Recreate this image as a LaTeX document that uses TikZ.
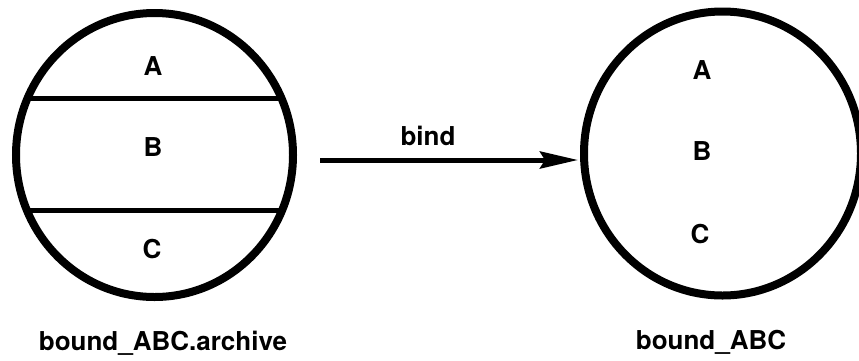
\documentclass[tikz,border=0pt]{standalone}
\usepackage{fontspec}
\setmainfont{TeX Gyre Heros}
\usetikzlibrary{arrows.meta,shapes.geometric}
\begin{document}
\begin{tikzpicture}[x=1pt,y=-1pt,
  lbl/.style={font=\bfseries\fontsize{26}{30}\selectfont, anchor=base, inner sep=0pt},
  ring/.style={draw, ellipse, line width=8pt, minimum width=277pt, minimum height=284pt, inner sep=0pt},
  divider/.style={line width=5pt},
  conn/.style={line width=5pt, -{Stealth[length=38pt,width=17pt,inset=5pt]}}]
\useasboundingbox (0,0) rectangle (859,360);
% left archive
\begin{scope}
  \clip (154.5,155) ellipse [x radius=138.5pt, y radius=142pt];
  \draw[divider] (0,98) -- (320,98);
  \draw[divider] (0,210) -- (320,210);
\end{scope}
\node[ring] (arch) at (154.5,155) {};
\node[lbl] (la) at (153,75.5) {A};
\node[lbl] (lb) at (153,156) {B};
\node[lbl] (lc) at (152,258) {C};
\node[lbl] (archname) at (163,350) {bound\_ABC.archive};
% right bound
\node[ring] (bound) at (722.5,153.5) {};
\node[lbl] (ra) at (702,79) {A};
\node[lbl] (rb) at (702,160) {B};
\node[lbl] (rc) at (700,243) {C};
\node[lbl] (boundname) at (711,349) {bound\_ABC};
% arrow
\coordinate (arrowstart) at (320,160);
\coordinate (arrowtip) at (578,160);
\draw[conn] (arrowstart) -- (arrowtip);
\node[lbl] (bindlbl) at (428,145) {bind};
\end{tikzpicture}
\end{document}
